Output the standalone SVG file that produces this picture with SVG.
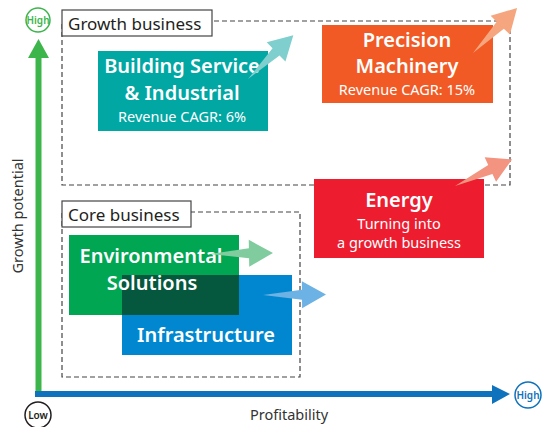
<svg xmlns="http://www.w3.org/2000/svg" width="550" height="427" viewBox="0 0 550 427">
<style>
text{font-family:"Noto Sans","Open Sans","Liberation Sans",sans-serif}
.dash{fill:none;stroke:#444;stroke-width:1.2;stroke-dasharray:5,3}
.lbl{fill:#fff;stroke:#444;stroke-width:1.2}
.lt{font-size:17px;fill:#231f20}
.t{fill:#fff;font-weight:600;text-anchor:middle;font-size:20px}
.s{fill:#fff;text-anchor:middle;font-size:14.5px}
.ax{font-size:14.5px;fill:#333}
</style>
<defs>
<path id="arr" d="M0,0 L39,-5 L39,-13.5 L63,0 L39,13.5 L39,5 Z"/>
</defs>
<g id="axes">
<rect x="35.5" y="57" width="6" height="337" fill="#3cb54a"/>
<polygon points="28,58 49,58 38.5,39" fill="#3cb54a"/>
<rect x="35" y="391" width="458" height="6" fill="#0f72bc"/>
<polygon points="492,385 510,394 492,404" fill="#0f72bc"/>
<circle cx="38" cy="20" r="12" fill="#fff" stroke="#3cb54a" stroke-width="1.5"/>
<text x="38" y="24" font-size="10" font-weight="600" fill="#3cb54a" text-anchor="middle">High</text>
<circle cx="38" cy="415" r="13" fill="#fff" stroke="#231f20" stroke-width="1.5"/>
<text x="38" y="419" font-size="10" font-weight="600" fill="#231f20" text-anchor="middle">Low</text>
<circle cx="528" cy="395" r="13" fill="#fff" stroke="#0f72bc" stroke-width="1.5"/>
<text x="528" y="399" font-size="10" font-weight="600" fill="#0f72bc" text-anchor="middle">High</text>
<text class="ax" x="289" y="420" text-anchor="middle">Profitability</text>
<text class="ax" transform="translate(23,216) rotate(-90)" text-anchor="middle">Growth potential</text>
</g>
<g id="growth-business">
<rect class="dash" x="62" y="21" width="448" height="164"/>
<rect class="lbl" x="62" y="10" width="150" height="26"/>
<text class="lt" x="68" y="30">Growth business</text>
</g>
<g id="core-business">
<rect class="dash" x="62" y="212" width="238" height="165"/>
<rect class="lbl" x="62" y="201" width="129" height="26"/>
<text class="lt" x="68" y="221">Core business</text>
</g>
<g id="building-service">
<rect x="98" y="51" width="170" height="80" fill="#00a7a3"/>
<text class="t" x="182" y="73">Building Service</text>
<text class="t" x="182" y="100">&amp; Industrial</text>
<text class="s" x="182" y="122">Revenue CAGR: 6%</text>
</g>
<g id="precision-machinery">
<rect x="322" y="25" width="171" height="78" fill="#f15a24"/>
<text class="t" x="407" y="47">Precision</text>
<text class="t" x="407" y="73">Machinery</text>
<text class="s" x="407" y="95">Revenue CAGR: 15%</text>
</g>
<g id="energy">
<rect x="314" y="179" width="170" height="79" fill="#ed1c2e"/>
<text class="t" x="399" y="207">Energy</text>
<text class="s" x="399" y="229">Turning into</text>
<text class="s" x="399" y="248">a growth business</text>
</g>
<g id="environmental-solutions">
<rect x="69" y="235" width="170" height="80" fill="#00a651"/>
</g>
<g id="infrastructure">
<rect x="122" y="275" width="170" height="80" fill="#0087cf"/>
<rect x="122" y="275" width="117" height="40" fill="#05583d"/>
<text class="t" x="206" y="342">Infrastructure</text>
</g>
<g id="environmental-text">
<text class="t" x="151" y="263">Environmental</text>
<text class="t" x="152" y="290">Solutions</text>
</g>
<g id="connectors">
<use href="#arr" fill="#7ecfcd" transform="translate(248,79) rotate(-44)"/>
<use href="#arr" fill="#f6a67f" transform="translate(473,53) rotate(-45.6)"/>
<use href="#arr" fill="#f39480" transform="translate(455,186) rotate(-25)"/>
<use href="#arr" fill="#80cc9e" transform="translate(210,254) rotate(-1)"/>
<use href="#arr" fill="#6cb2e4" transform="translate(263,295) rotate(-0.5)"/>
</g>
</svg>
